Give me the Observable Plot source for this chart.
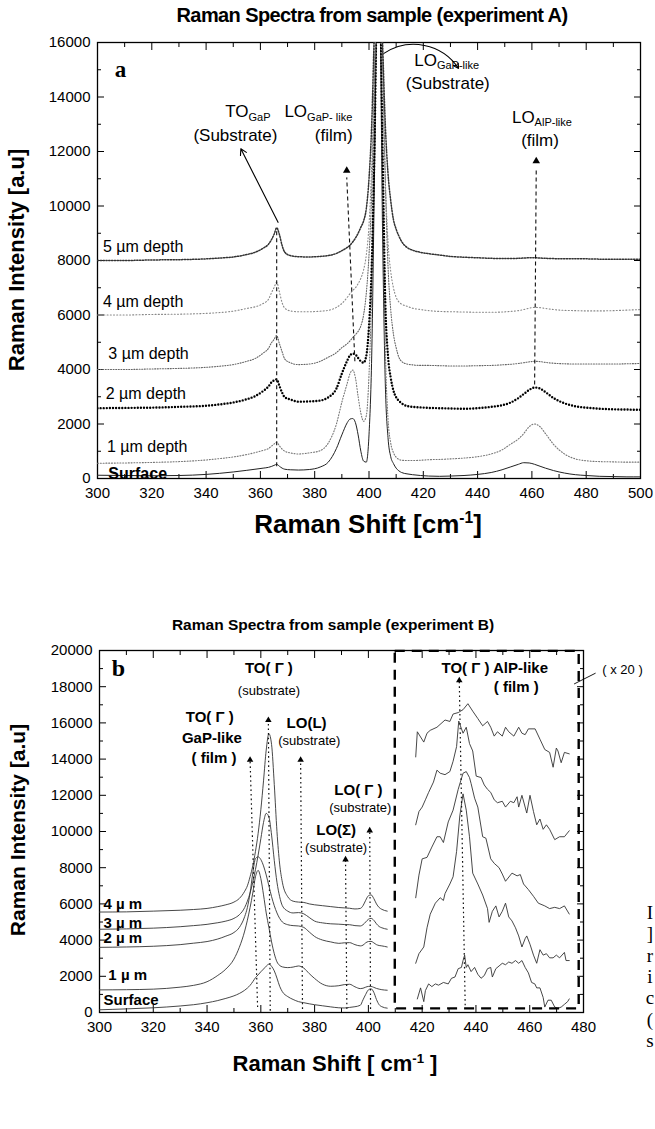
<!DOCTYPE html>
<html><head><meta charset="utf-8">
<script src="https://cdn.jsdelivr.net/npm/d3@7"></script>
<script src="https://cdn.jsdelivr.net/npm/@observablehq/plot@0.6"></script>
<style>
html,body{margin:0;padding:0;background:#fff;}
#page{position:relative;width:655px;height:1129px;overflow:hidden;background:#fff;font-family:"Liberation Sans",Arial,sans-serif;color:#000;}
.abs{position:absolute;white-space:nowrap;line-height:1;}
sup{font-size:60%;vertical-align:super;line-height:0;}
</style></head><body><div id="page"></div>
<script>
// ================= PANEL A DATA =================
const xA = [300,310,320,330,340,345,350,355,358,361,363,364,365,366,367,368,369,371,374,378,382,385,388,390,392,393,394,395,396,397,398,399,400,401,402,403,404,405,406,407,408,409,410,411,412,414,416,419,422,426,430,435,440,445,449,452,455,457,459,461,463,465,468,472,476,480,485,490,495,500];
const aSurface = [120,110,100,110,150,190,240,300,340,380, 410,440,480,520,450,380,340,320,310,330, 420,600,1100,1600,2050,2180,2200,2050,1600,1000, 640,600,1600,4500,11000,17500,17000,9000,3500,1500, 800,550,380,280,220,170,140,110,90,80, 90,110,150,220,320,420,520,580,570,520, 450,380,290,200,140,110,80,70,60,60];
const a1um = [560,570,590,620,680,730,790,880,950,1030, 1100,1180,1260,1330,1200,1080,1000,940,900,940, 1020,1300,2000,2800,3500,3850,3980,3700,3000,2400, 2100,2300,3800,7000,13000,18000,17500,11000,4800,2200, 1300,950,780,700,670,660,660,670,690,700, 720,750,800,900,1050,1250,1450,1650,1900,2000, 1900,1650,1250,900,720,650,620,610,600,600];
const a2um = [2580,2590,2600,2630,2670,2720,2790,2910,3020,3210, 3380,3520,3600,3640,3400,3150,2980,2900,2820,2830, 2860,2980,3300,3850,4330,4520,4580,4550,4420,4300, 4250,4500,5600,7800,12000,17500,17500,12000,6500,4500, 3700,3230,2980,2850,2760,2660,2630,2610,2590,2580, 2570,2560,2580,2630,2690,2780,2950,3100,3250,3340, 3300,3170,2950,2760,2650,2600,2560,2540,2530,2520];
const a3um = [4000,4000,4020,4040,4080,4120,4180,4300,4400,4600, 4780,4970,5100,5250,4950,4650,4380,4250,4180,4200, 4300,4450,4620,4800,4950,5050,5170,5280,5400,5600, 6000,6800,8200,10500,14500,18000,18500,15500,11000,7800, 6200,5300,4800,4450,4300,4200,4170,4150,4150,4140, 4130,4130,4140,4150,4170,4190,4220,4250,4280,4300, 4290,4260,4230,4210,4200,4200,4200,4200,4210,4220];
const a4um = [6000,6000,6020,6030,6060,6090,6140,6240,6300,6420, 6580,6800,7000,7200,6850,6450,6250,6150,6120,6120, 6140,6170,6280,6420,6650,6780,6900,7000,7150,7350, 7650,8200,9300,11500,15000,18500,18500,15000,11000,8700, 7600,7000,6650,6480,6400,6320,6250,6200,6160,6130, 6120,6110,6100,6100,6110,6130,6160,6200,6250,6280, 6270,6240,6200,6170,6160,6150,6150,6160,6180,6200];
const a5um = [8000,8000,8020,8030,8060,8090,8130,8220,8300,8450, 8600,8750,8950,9200,8950,8550,8300,8180,8140,8130, 8150,8180,8260,8360,8480,8560,8680,8820,9000,9220, 9450,9900,11000,13000,16500,19000,19000,16000,13000,11200, 10200,9500,9150,8900,8700,8480,8380,8300,8250,8200, 8150,8120,8100,8080,8070,8070,8080,8090,8100,8100, 8090,8080,8070,8060,8060,8060,8050,8050,8050,8050];

const xTicksA = [300,320,340,360,380,400,420,440,460,480,500];
const xMinorA = [310,330,350,370,390,410,430,450,470,490];
const yTicksA = [0,2000,4000,6000,8000,10000,12000,14000,16000];
const yMinorA = [1000,3000,5000,7000,9000,11000,13000,15000];

const depthLabelsA = [
  {x: 302, y: 8500, text: "5 \u00b5m depth"},
  {x: 302, y: 6480, text: "4 \u00b5m depth"},
  {x: 304, y: 4560, text: "3 \u00b5m depth"},
  {x: 303, y: 3120, text: "2 \u00b5m depth"},
  {x: 303.5, y: 1150, text: "1 \u00b5m depth"}
];
const surfaceLabelA = [{x: 304, y: 170, text: "Surface"}];
const panelLetterA = [{x: 308.5, y: 15000, text: "a"}];
const peakMainA = [
  {x: 355.6, y: 13450, text: "TO"},
  {x: 377.2, y: 13450, text: "LO"},
  {x: 425, y: 15350, text: "LO"},
  {x: 461, y: 13250, text: "LO"}
];
const peakSubA = [
  {x: 355.6, y: 13450, text: "GaP"},
  {x: 377.2, y: 13450, text: "GaP- like"},
  {x: 425, y: 15350, text: "GaP-like"},
  {x: 461, y: 13250, text: "AlP-like"}
];
const peakParenA = [
  {x: 350.8, y: 12600, text: "(Substrate)"},
  {x: 387, y: 12600, text: "(film)"},
  {x: 429, y: 14500, text: "(Substrate)"},
  {x: 463, y: 12400, text: "(film)"}
];
const solidArrowA = [{x1: 366.5, y1: 9400, x2: 352.8, y2: 12100}];
const curvedArrowA = [{x1: 405.5, y1: 15600, x2: 433, y2: 15050}];
const dashedLinksA = [
  {x1: 366, y1: 450, x2: 366, y2: 9100},
  {x1: 394.8, y1: 4300, x2: 391.8, y2: 11050},
  {x1: 461, y1: 3450, x2: 461.6, y2: 11400}
];
const headsA = [{x: 391.8, y: 11300}, {x: 461.6, y: 11650}];

// ================= PANEL B DATA =================
const xB = [300,310,320,330,335,340,344,347,350,352,354,355,356,357,358,359,360,361,362,363,364,365,366,367,368,370,372,374,376,378,380,383,386,389,391,393,395,397,398,399,400,401,402,403,404,405,407];
const bSurface = [150,200,260,360,430,540,660,780,920,1050, 1230,1350,1500,1700,1920,2080,2250,2400,2560,2670, 2550,2300,1900,1450,1150,880,720,600,540,480, 430,370,310,260,250,280,320,400,700,1000, 1250,1310,1120,720,430,320,240];
const b1um = [1250,1260,1290,1400,1500,1700,2050,2400,2950,3600, 4500,5100,5800,6600,7500,7850,7400,6500,5500,4700, 3900,3250,2800,2600,2520,2480,2510,2570,2450,2150, 1880,1560,1450,1480,1540,1560,1420,1320,1340,1400, 1440,1440,1390,1330,1290,1260,1230];
const b2um = [3600,3620,3660,3750,3830,3920,4060,4220,4420,4700, 5300,5800,6600,7700,8500,8600,8450,8100,7600,7000, 6400,5900,5500,5200,5000,4850,4800,4780,4700,4450, 4200,4000,3900,3820,3850,3860,3750,3680,3720,3850, 3920,3930,3850,3750,3700,3680,3620];
const b3um = [4600,4620,4660,4740,4800,4870,4960,5050,5200,5400, 5800,6150,6600,7200,7900,8700,9600,10500,11000,10800, 9800,8400,7200,6400,5900,5600,5500,5520,5450,5250, 5050,4950,4900,4880,4860,4850,4800,4780,4850,5000, 5150,5200,5100,4900,4750,4680,4600];
const b4um = [5550,5560,5600,5650,5690,5750,5850,5950,6100,6300, 6700,7000,7500,8100,8900,9900,11200,12800,14500,15400, 14800,12600,10000,8200,7200,6400,6150,6100,6080,6000, 5950,5900,5850,5800,5780,5760,5720,5750,5900,6200, 6450,6500,6300,6000,5800,5700,5600];

// x20 magnified AlP-like region (x, intensity)
const zoomTop = [[417.6,14120],[418.2,15510],[420.6,14940],[421.8,15430],[423,15590],[425.5,15760],[428.5,16160],[430.3,16080],[431.5,16490],[433.4,16570],[435.2,16730],[437,17060],[438.8,16650],[440.7,16240],[442.5,15840],[444.3,16080],[445.5,15760],[446.8,15270],[448,15510],[449.8,15270],[451,15760],[452.2,15510],[454.1,15270],[455.9,15760],[457.1,15430],[458.3,15350],[459.5,15670],[462,15670],[463.8,15100],[465.6,14530],[467.4,14370],[468.7,13550],[469.9,14610],[470.5,14450],[471.7,13800],[472.9,14370],[474.7,14290]];
const zoom2nd = [[417.6,10370],[418.8,11100],[420,11350],[421.2,11750],[422.4,12160],[424.2,12730],[425.5,13390],[426.7,13220],[428.5,13140],[430.3,13310],[431.5,13880],[432.8,14690],[433.6,16100],[435.2,15430],[436.4,15760],[437.6,14860],[438.8,14450],[440.1,13060],[441.9,12980],[443.1,12570],[444.3,12330],[445.5,12160],[446.8,11750],[448,11590],[449.8,11670],[451,11350],[452.8,11670],[454.1,11590],[455.3,11920],[455.9,11350],[457.1,12000],[458.9,11020],[460.1,12000],[461.4,11100],[462.6,10370],[463.8,10690],[465,10120],[466.2,10370],[467.4,10120],[469.3,9550],[471.1,9710],[472.9,9710],[474.7,10040]];
const zoom3rd = [[417.6,6340],[418.8,7590],[420,8490],[421.8,8570],[423.6,9140],[425.5,9710],[426.7,9710],[427.9,9390],[429.7,10530],[431.5,11180],[433.4,12330],[435.2,13220],[436.4,13310],[437.6,12980],[438.2,12650],[439.5,11840],[440.7,11350],[442.5,9710],[443.7,9630],[445.5,8490],[446.8,8240],[448.6,8000],[449.8,7650],[451,7250],[453.4,7700],[455.3,7550],[456.5,7620],[457.7,7100],[459.5,6790],[461.4,6420],[463.2,6040],[465.6,5890],[467.4,5740],[469.3,5810],[471.1,5740],[472.9,5890],[474.7,5440]];
const zoom4th = [[417.6,2720],[418.8,3250],[420.6,3620],[421.8,4680],[423,5430],[424.9,6040],[426.7,6340],[427.9,6190],[428.5,6570],[430.3,7100],[431.5,7500],[432.8,8900],[434,10860],[435.2,12080],[436.4,11180],[437.6,9710],[438.8,7700],[440.7,7100],[442.5,6490],[444.3,5740],[444.9,4980],[446.1,5590],[447.4,5890],[448.6,5280],[449.8,5590],[451,6040],[452.2,5280],[453.4,5060],[454.7,4680],[455.9,4230],[457.1,3620],[458.3,4080],[458.9,4230],[460.1,3770],[461.4,3170],[462.6,2720],[463.8,3470],[465,3170],[466.2,3250],[467.4,3020],[468.7,3020],[469.9,3170],[471.1,3020],[472.9,3320],[473.5,2870],[474.7,2870]];
const zoom5th = [[418.2,750],[419.4,1360],[420.6,600],[421.2,1210],[422.4,1580],[423.6,1430],[424.9,1580],[426.1,1510],[427.9,1660],[429.7,1580],[430.9,1890],[432.2,1960],[433.4,2420],[434.6,2490],[435.2,2870],[435.8,3170],[436.4,2490],[437,2640],[438.2,2260],[439.5,2490],[440.7,2110],[441.9,1890],[443.1,2040],[444.3,2420],[445.5,2490],[446.1,1960],[447.4,2420],[448.6,2570],[449.8,2720],[451,2640],[452.2,2790],[453.4,2720],[454.7,2870],[455.9,2720],[457.1,2870],[458.3,2490],[459.5,2190],[460.7,1660],[461.9,1580],[462.6,1360],[463.8,1360],[465,830],[465.6,300],[466.8,680],[468,680],[469.3,300],[470.5,230],[471.7,300],[472.9,450],[474.1,600],[474.7,750]];

const xTicksB = [300,320,340,360,380,400,420,440,460,480];
const xMinorB = [310,330,350,370,390,410,430,450,470];
const yTicksB = [0,2000,4000,6000,8000,10000,12000,14000,16000,18000,20000];
const yMinorB = [1000,3000,5000,7000,9000,11000,13000,15000,17000,19000];

const depthLabelsB = [
  {x: 301.5, y: 6000, text: "4 \u00b5 m"},
  {x: 301.5, y: 4960, text: "3 \u00b5 m"},
  {x: 301.5, y: 4110, text: "2 \u00b5 m"},
  {x: 303.3, y: 2080, text: "1 \u00b5 m"},
  {x: 301.5, y: 700, text: "Surface"}
];
const panelLetterB = [{x: 307, y: 19000, text: "b"}];
const boldNotesB = [
  {x: 363, y: 19000, text: "TO( \u0393 )"},
  {x: 341, y: 16300, text: "TO( \u0393 )"},
  {x: 341.8, y: 15150, text: "GaP-like"},
  {x: 342.6, y: 14050, text: "( film )"},
  {x: 377, y: 16000, text: "LO(L)"},
  {x: 396.3, y: 12300, text: "LO( \u0393 )"},
  {x: 388, y: 10050, text: "LO(\u03a3)"},
  {x: 447, y: 19050, text: "TO( \u0393 ) AlP-like"},
  {x: 455, y: 17950, text: "( film )"}
];
const substrateNotesB = [
  {x: 363, y: 17780, text: "(substrate)"},
  {x: 378, y: 15000, text: "(substrate)"},
  {x: 397, y: 11330, text: "(substrate)"},
  {x: 388, y: 9120, text: "(substrate)"}
];
const dottedArrowsB = [
  {x1: 358.8, y1: 300, x2: 356, y2: 13950},
  {x1: 363.5, y1: 100, x2: 362.8, y2: 16150},
  {x1: 375.5, y1: 200, x2: 374.8, y2: 13950},
  {x1: 392, y1: 200, x2: 391.5, y2: 8450},
  {x1: 400.8, y1: 200, x2: 400.5, y2: 10050},
  {x1: 436, y1: 400, x2: 433.8, y2: 18350}
];
const magnifyBox = [{x1: 410, x2: 478.4, y1: 200, y2: 19950}];
const magnifyNote = [{x: 487, y: 18950, text: "( x 20 )"}];
const magnifyLeader = [{x1: 476.5, y1: 18150, x2: 484.5, y2: 18750}];

// ================= HELPERS =================
const page = document.getElementById("page");
const FONT = "'Liberation Sans', Arial, sans-serif";
const SERIF = "'Liberation Serif', 'Times New Roman', serif";
function rows(xs, ys) { return xs.map((x, i) => ({x, y: ys[i]})); }
function pairs(p) { return p.map(([x, y]) => ({x, y})); }
function html(content, cx, cy, css, rot) {
  const d = document.createElement("div");
  d.className = "abs";
  d.innerHTML = content;
  Object.assign(d.style, css || {});
  d.style.left = cx + "px";
  d.style.top = cy + "px";
  d.style.transform = "translate(-50%,-50%)" + (rot ? " rotate(" + rot + "deg)" : "");
  page.appendChild(d);
}
function axes(xT, xM, yT, yM) {
  const blank = () => "";
  return [
    Plot.axisX(xT, {anchor: "bottom", tickSize: 0, tickPadding: 9, fontSize: 15, tickFormat: "d"}),
    Plot.axisX(xT, {anchor: "bottom", tickSize: -7, tickFormat: blank}),
    Plot.axisX(xM, {anchor: "bottom", tickSize: -4, tickFormat: blank}),
    Plot.axisX(xT, {anchor: "top", tickSize: -7, tickFormat: blank}),
    Plot.axisX(xM, {anchor: "top", tickSize: -4, tickFormat: blank}),
    Plot.axisY(yT, {anchor: "left", tickSize: 0, tickPadding: 7, fontSize: 15, tickFormat: "d"}),
    Plot.axisY(yT, {anchor: "left", tickSize: -7, tickFormat: blank}),
    Plot.axisY(yM, {anchor: "left", tickSize: -4, tickFormat: blank}),
    Plot.axisY(yT, {anchor: "right", tickSize: -7, tickFormat: blank}),
    Plot.axisY(yM, {anchor: "right", tickSize: -4, tickFormat: blank}),
    Plot.frame({stroke: "#000", strokeWidth: 1.3})
  ];
}
function place(svg, top) {
  svg.style.position = "absolute";
  svg.style.left = "0px";
  svg.style.top = top + "px";
  page.appendChild(svg);
}

// ================= PANEL A =================
const lineA = (ys, st) => Plot.line(rows(xA, ys), Object.assign({x: "x", y: "y", curve: "monotone-x", clip: true}, st));
const plotA = Plot.plot({
  width: 655, height: 545,
  marginLeft: 97, marginRight: 15, marginTop: 42, marginBottom: 67,
  x: {domain: [300, 500], label: null},
  y: {domain: [0, 16000], label: null},
  style: {fontFamily: FONT, fontSize: "15px", background: "transparent", overflow: "visible"},
  marks: [
    ...axes(xTicksA, xMinorA, yTicksA, yMinorA),
    lineA(aSurface, {stroke: "#222", strokeWidth: 1}),
    lineA(a1um, {stroke: "#777", strokeWidth: 1.1, strokeDasharray: "1,1.8"}),
    lineA(a2um, {stroke: "#000", strokeWidth: 2.4, strokeDasharray: "0,3.1", strokeLinecap: "round"}),
    lineA(a3um, {stroke: "#666", strokeWidth: 1.1, strokeDasharray: "1,1.6"}),
    lineA(a4um, {stroke: "#888", strokeWidth: 1.1, strokeDasharray: "1,2.2"}),
    lineA(a5um, {stroke: "#333", strokeWidth: 1.5, strokeDasharray: "1.3,1.5"}),
    Plot.link(dashedLinksA, {x1: "x1", y1: "y1", x2: "x2", y2: "y2", stroke: "#111", strokeWidth: 1.1, strokeDasharray: "4,3"}),
    Plot.dot(headsA, {x: "x", y: "y", symbol: "triangle", fill: "#000", r: 2.8}),
    Plot.arrow(solidArrowA, {x1: "x1", y1: "y1", x2: "x2", y2: "y2", stroke: "#000", strokeWidth: 1.1, headLength: 9}),
    Plot.arrow(curvedArrowA, {x1: "x1", y1: "y1", x2: "x2", y2: "y2", stroke: "#000", strokeWidth: 1.1, headLength: 7, bend: 45}),
    Plot.text(depthLabelsA, {x: "x", y: "y", text: "text", textAnchor: "start", fontSize: 16}),
    Plot.text(surfaceLabelA, {x: "x", y: "y", text: "text", textAnchor: "start", fontSize: 16, fontWeight: "bold"}),
    Plot.text(panelLetterA, {x: "x", y: "y", text: "text", fontSize: 23, fontWeight: "bold", fontFamily: SERIF}),
    Plot.text(peakMainA, {x: "x", y: "y", text: "text", textAnchor: "end", fontSize: 17}),
    Plot.text(peakSubA, {x: "x", y: "y", text: "text", textAnchor: "start", fontSize: 11, dy: 5}),
    Plot.text(peakParenA, {x: "x", y: "y", text: "text", fontSize: 17})
  ]
});
place(plotA, 0);

// ================= PANEL B =================
const lineB = (ys) => Plot.line(rows(xB, ys), {x: "x", y: "y", curve: "monotone-x", stroke: "#333", strokeWidth: 0.9, clip: true});
const lineZ = (p) => Plot.line(pairs(p), {x: "x", y: "y", stroke: "#333", strokeWidth: 0.9, clip: true});
const plotB = Plot.plot({
  width: 655, height: 480,
  marginLeft: 99, marginRight: 72, marginTop: 50, marginBottom: 68,
  x: {domain: [300, 480], label: null},
  y: {domain: [0, 20000], label: null},
  style: {fontFamily: FONT, fontSize: "15px", background: "transparent", overflow: "visible"},
  marks: [
    ...axes(xTicksB, xMinorB, yTicksB, yMinorB),
    lineB(bSurface), lineB(b1um), lineB(b2um), lineB(b3um), lineB(b4um),
    lineZ(zoomTop), lineZ(zoom2nd), lineZ(zoom3rd), lineZ(zoom4th), lineZ(zoom5th),
    Plot.rect(magnifyBox, {x1: "x1", x2: "x2", y1: "y1", y2: "y2", fill: "none", stroke: "#000", strokeWidth: 2.4, strokeDasharray: "10,7"}),
    Plot.link(dottedArrowsB, {x1: "x1", y1: "y1", x2: "x2", y2: "y2", stroke: "#111", strokeWidth: 1.2, strokeDasharray: "1.6,3"}),
    Plot.dot(dottedArrowsB, {x: "x2", y: "y2", symbol: "triangle", fill: "#000", r: 2.4}),
    Plot.link(magnifyLeader, {x1: "x1", y1: "y1", x2: "x2", y2: "y2", stroke: "#000", strokeWidth: 0.9}),
    Plot.text(magnifyNote, {x: "x", y: "y", text: "text", textAnchor: "start", fontSize: 13}),
    Plot.text(depthLabelsB, {x: "x", y: "y", text: "text", textAnchor: "start", fontSize: 15, fontWeight: "bold"}),
    Plot.text(panelLetterB, {x: "x", y: "y", text: "text", fontSize: 24, fontWeight: "bold", fontFamily: SERIF}),
    Plot.text(boldNotesB, {x: "x", y: "y", text: "text", fontSize: 15, fontWeight: "bold"}),
    Plot.text(substrateNotesB, {x: "x", y: "y", text: "text", fontSize: 13})
  ]
});
place(plotB, 600);

// ================= TITLES (HTML text) =================
html("Raman Spectra from sample (experiment A)", 372, 15, {fontSize: "20px", fontWeight: "bold", letterSpacing: "-0.6px"});
html("Raman Intensity [a.u]", 17, 260, {fontSize: "22px", fontWeight: "bold"}, -90);
html("Raman Shift [cm<sup>-1</sup>]", 368, 524, {fontSize: "26px", fontWeight: "bold"});
html("Raman Spectra from sample (experiment B)", 333, 625, {fontSize: "15.5px", fontWeight: "bold"});
html("Raman Intensity [a.u]", 17, 830, {fontSize: "21px", fontWeight: "bold"}, -90);
html("Raman Shift [ cm<sup>-1</sup> ]", 335, 1064, {fontSize: "22px", fontWeight: "bold"});
const edgeChars = ["I", "]", "r", "i", "c", "(", "s"];
edgeChars.forEach((c, i) => html(c, 650, 912 + i * 21.3, {fontSize: "19px", fontFamily: SERIF}));
</script></body></html>
